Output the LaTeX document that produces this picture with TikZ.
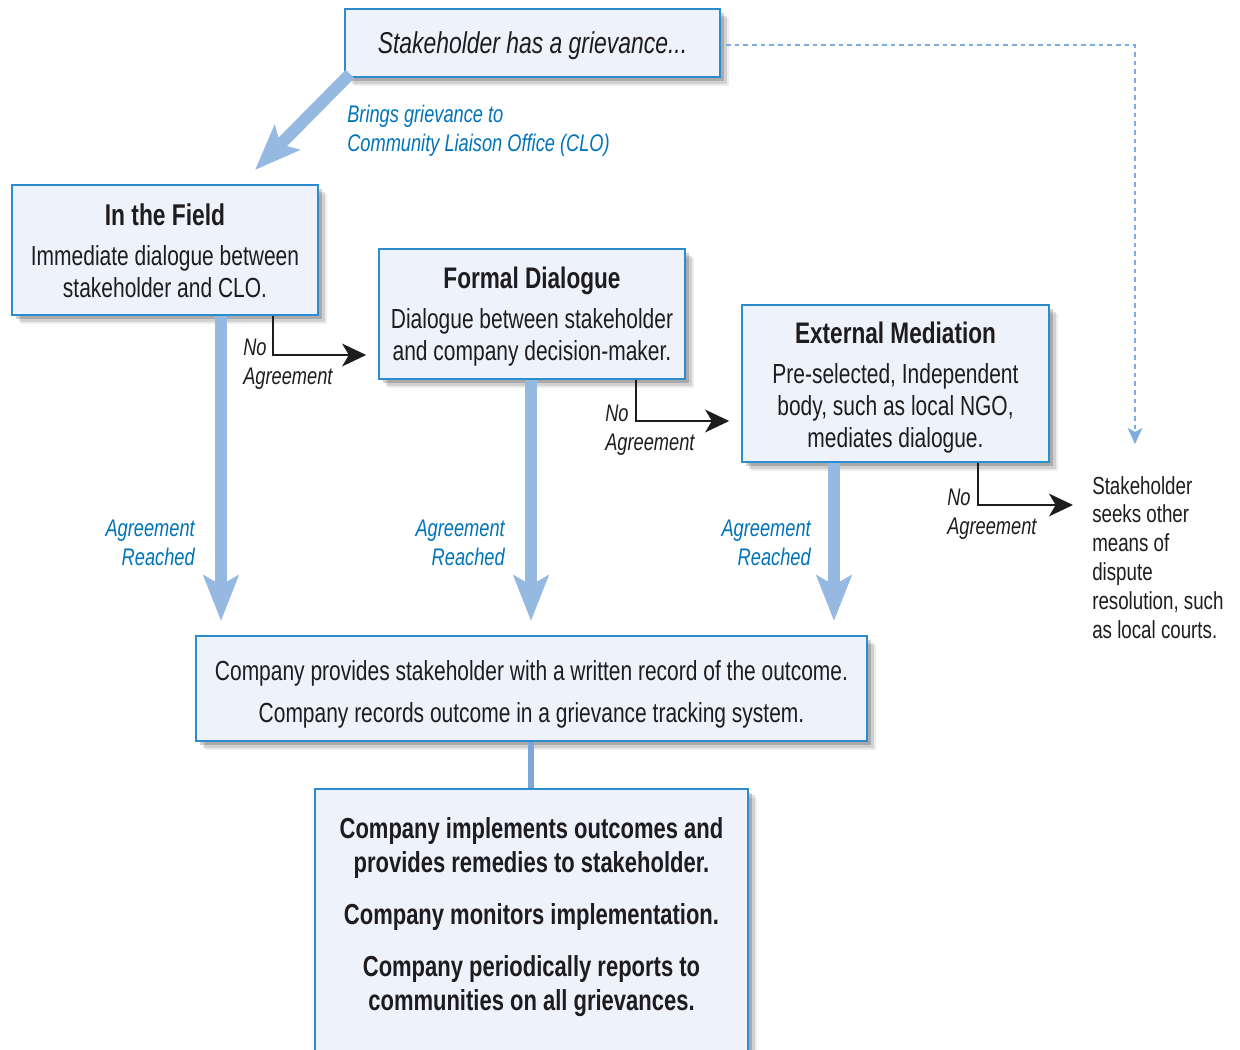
\documentclass[tikz,border=0pt]{standalone}
\usepackage{fontspec}
\setmainfont{Liberation Sans}[FakeStretch=0.76]
\usetikzlibrary{arrows.meta,shadows,calc}
\definecolor{boxfill}{RGB}{238,242,250}
\definecolor{boxline}{RGB}{45,140,205}
\definecolor{thickblue}{RGB}{150,185,226}
\definecolor{midblue}{RGB}{125,165,215}
\definecolor{labelblue}{RGB}{0,115,185}
\definecolor{dotblue}{RGB}{125,172,225}
\definecolor{ink}{RGB}{30,28,30}
\tikzset{
  box/.style={draw=boxline, line width=1.2pt, fill=boxfill, inner sep=0pt,
    drop shadow={shadow xshift=7pt,shadow yshift=-7pt,opacity=0.07,fill=black},
    drop shadow={shadow xshift=5pt,shadow yshift=-5pt,opacity=0.12,fill=black},
    drop shadow={shadow xshift=3pt,shadow yshift=-3pt,opacity=0.18,fill=black}},
  body/.style={text=ink, align=center, font=\fontsize{20.7}{24}\selectfont},
  bluelabel/.style={text=labelblue, font=\fontsize{18}{21.75}\selectfont\itshape},
  nolabel/.style={text=ink, align=left, font=\fontsize{18}{21.75}\selectfont\itshape, anchor=north west, inner sep=0pt},
  bigarrow/.style={draw=thickblue, line width=9pt, -{Stealth[length=34pt,width=26pt,inset=7pt]}},
  noarrow/.style={draw=ink, line width=1.9pt, -{Stealth[length=18pt,width=17pt,inset=5pt]}},
}
\begin{document}
\begin{tikzpicture}[x=0.75pt,y=-0.75pt]
\useasboundingbox (0,0) rectangle (1240,1050);
% boxes
\node[box, minimum width=375*0.75pt, minimum height=68*0.75pt] (top) at (532.5,43) {};
\node[body, font=\fontsize{22.6}{26}\selectfont\itshape] (toptxt) at (532.5,46) {Stakeholder has a grievance...};

\node[box, minimum width=306*0.75pt, minimum height=130*0.75pt] (field) at (165,250) {};
\node[body] (fieldtxt) at (165,251) {\textbf{\fontsize{22.5}{24}\selectfont In the Field}\\[6pt]Immediate dialogue between\\stakeholder and CLO.};

\node[box, minimum width=306*0.75pt, minimum height=130*0.75pt] (formal) at (532,314) {};
\node[body] (formaltxt) at (532,317) {\textbf{\fontsize{22.3}{24}\selectfont Formal Dialogue}\\[6pt]Dialogue between stakeholder\\and company decision-maker.};

\node[box, minimum width=307*0.75pt, minimum height=157*0.75pt] (ext) at (895.5,383.5) {};
\node[body] (exttxt) at (895.5,388) {\textbf{\fontsize{22.3}{24}\selectfont External Mediation}\\[6pt]Pre-selected, Independent\\body, such as local NGO,\\mediates dialogue.};

\node[box, minimum width=671*0.75pt, minimum height=105*0.75pt] (outc) at (531.5,688.5) {};
\node[body, font=\fontsize{20.7}{31.5}\selectfont] (outctxt) at (531.5,694) {Company provides stakeholder with a written record of the outcome.\\Company records outcome in a grievance tracking system.};

% connector outcome -> implement
\coordinate (impltop) at (531,788);
\draw[midblue, line width=4.5pt] (outc.south -| impltop) -- (impltop);

\node[box, minimum width=433*0.75pt, minimum height=290*0.75pt, anchor=north] (impl) at (531.5,788) {};
\node[body, font=\fontsize{21.7}{25.5}\selectfont\bfseries] (impltxt) at (531.5,917) {Company implements outcomes and\\provides remedies to stakeholder.\\[13.5pt]Company monitors implementation.\\[13.5pt]Company periodically reports to\\communities on all grievances.};

% diagonal arrow
\coordinate (diagtip) at (255,170);
\draw[bigarrow] (350,74) -- (diagtip);
\node[bluelabel, anchor=north west, inner sep=0pt, align=left] (brings) at (347,105) {Brings grievance to\\Community Liaison Office (CLO)};

% agreement reached arrows
\coordinate (r1) at (221,621);
\coordinate (r2) at (531,621);
\coordinate (r3) at (834,621);
\draw[bigarrow] (field.south -| r1) -- (r1);
\draw[bigarrow] (formal.south -| r2) -- (r2);
\draw[bigarrow] (ext.south -| r3) -- (r3);
\node[bluelabel, anchor=north east, inner sep=0pt, align=right] (ar1) at (195,520) {Agreement\\Reached};
\node[bluelabel, anchor=north east, inner sep=0pt, align=right] (ar2) at (505,520) {Agreement\\Reached};
\node[bluelabel, anchor=north east, inner sep=0pt, align=right] (ar3) at (811,520) {Agreement\\Reached};

% no agreement arrows
\coordinate (n1) at (273,355);
\coordinate (n2) at (636,421);
\coordinate (n3) at (978,505);
\coordinate (seek) at (1073,505);
\draw[noarrow, shorten >=9pt] (field.south -| n1) -- (n1) -- (formal.west |- n1);
\draw[noarrow, shorten >=9pt] (formal.south -| n2) -- (n2) -- (ext.west |- n2);
\draw[noarrow] (ext.south -| n3) -- (n3) -- (seek);
\node[nolabel] (na1) at (243,339) {No\\Agreement};
\node[nolabel] (na2) at (605,405) {No\\Agreement};
\node[nolabel] (na3) at (947,489) {No\\Agreement};

% right text
\node[text=ink, align=left, anchor=north west, inner sep=0pt, font=\fontsize{18.5}{21.6}\selectfont] (other) at (1092,476) {Stakeholder\\seeks other\\means of\\dispute\\resolution, such\\as local courts.};

% dotted line
\coordinate (dotcorner) at (1135,45);
\coordinate (dottip) at (1135,444);
\draw[dotblue, line width=1.5pt, dash pattern=on 3.5pt off 3pt, -{Stealth[length=12pt,width=11pt,inset=3pt]}] ([xshift=4pt]top.east |- dotcorner) -- (dotcorner) -- (dottip);
\end{tikzpicture}
\end{document}
